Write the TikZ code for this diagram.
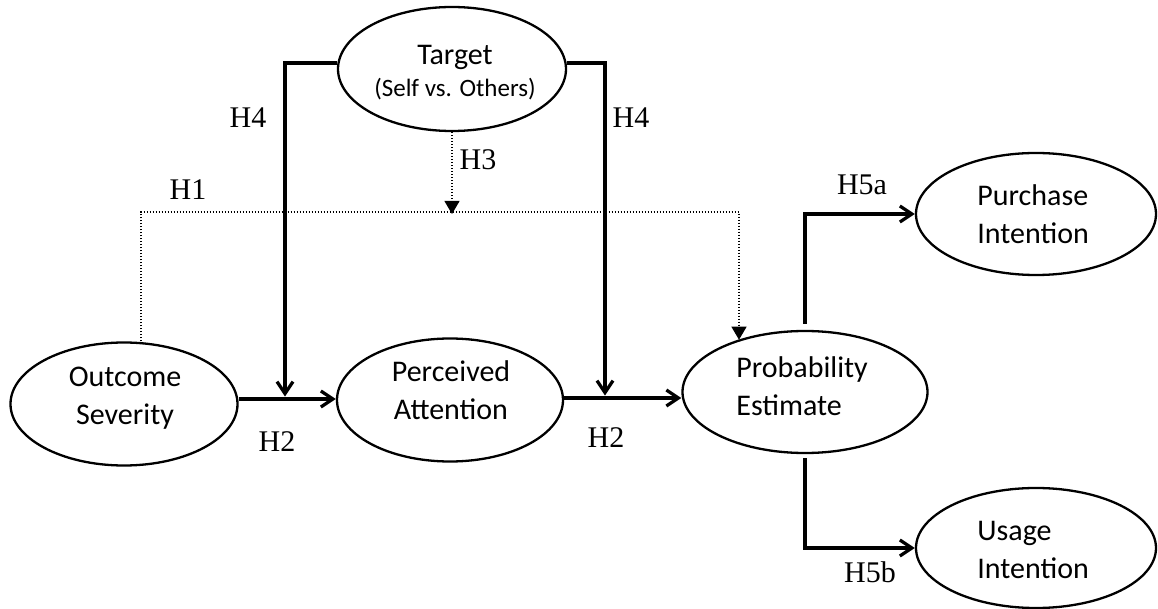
\documentclass[tikz,border=0pt]{standalone}
\usepackage{fontspec}
\setmainfont{Liberation Serif}
\newfontfamily\calfont{Carlito}
\usetikzlibrary{arrows.meta,shapes.geometric}
\begin{document}
\begin{tikzpicture}[x=0.5pt,y=-0.5pt,
  oval/.style={draw, ellipse, line width=1.15pt, inner sep=0pt},
  lbl/.style={font=\calfont\fontsize{15}{19}\selectfont, inner sep=0pt},
  hyp/.style={font=\fontsize{15}{18}\selectfont, inner sep=0pt},
  solidarrow/.style={line width=1.65pt, -{Straight Barb[length=6pt,width=8pt]}},
  dotarrow/.style={line width=0.55pt, dash pattern=on 0.55pt off 0.95pt, -{Triangle[length=6.5pt,width=7.5pt]}},
]
\useasboundingbox (0,0) rectangle (1158,609);

% ellipses
\node[oval, minimum width=114pt, minimum height=62pt] (tgt) at (452,69) {};
\node[oval, minimum width=113.5pt, minimum height=61.5pt] (out) at (124,404) {};
\node[oval, minimum width=113pt, minimum height=61.5pt] (per) at (450,400) {};
\node[oval, minimum width=122.5pt, minimum height=61pt] (prob) at (805,392) {};
\node[oval, minimum width=120pt, minimum height=61pt] (pur) at (1036,214) {};
\node[oval, minimum width=120pt, minimum height=60pt] (use) at (1036,548) {};

% ellipse texts
\node[lbl, font=\calfont\fontsize{15}{16}\selectfont, align=center] (tgtT) at (455,73) {Target\\{\fontsize{12.5}{16}\selectfont (Self vs. Others)}};
\node[lbl, align=center] (outT) at (125,398) {Outcome\\Severity};
\node[lbl, align=center] (perT) at (451,390) {Perceived\\Attention};
\node[lbl, align=left, anchor=west] (probT) at (736,386) {Probability\\Estimate};
\node[lbl, align=left, anchor=west] (purT) at (977,214) {Purchase\\Intention};
\node[lbl, align=left, anchor=west] (useT) at (977,550) {Usage\\Intention};

% hypothesis labels
\node[hyp] (h4a) at (248,118) {H4};
\node[hyp] (h4b) at (631,118) {H4};
\node[hyp] (h3) at (478,160) {H3};
\node[hyp] (h1) at (188,190) {H1};
\node[hyp] (h2a) at (277,442) {H2};
\node[hyp] (h2b) at (606,438) {H2};
\node[hyp] (h5a) at (862,185) {H5a};
\node[hyp] (h5b) at (870,572) {H5b};

% junction coordinates
\coordinate (j1) at (285,399);
\coordinate (j2) at (605,398);
\coordinate (d1) at (141,212);
\coordinate (d2) at (739,212);
\coordinate (d3) at (452,214);

% dotted paths
\draw[dotarrow] (d1 |- out.north) -- (d1) -- (d2) -- (d2 |- prob.142);
\draw[dotarrow] (tgt.south) -- (d3);

% solid paths
\draw[solidarrow, shorten >=1.2pt] (tgt.177) -| (j1);
\draw[solidarrow, shorten >=1.2pt] (tgt.3) -| (j2);
\draw[solidarrow] (out.east |- j1) -- (per.west |- j1);
\draw[solidarrow] (per.east |- j2) -- (prob.west |- j2);
\draw[solidarrow] ([yshift=3pt]prob.north) |- (pur.west);
\draw[solidarrow] ([yshift=-2pt]prob.south) |- (use.west);
\end{tikzpicture}
\end{document}
